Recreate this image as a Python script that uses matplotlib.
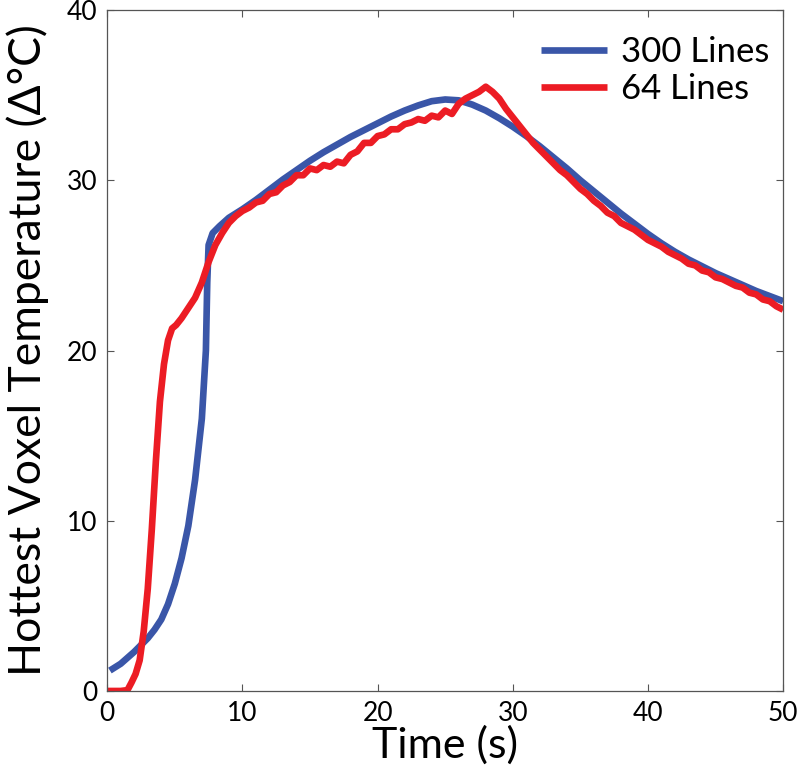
import matplotlib
matplotlib.use("Agg")
import matplotlib.pyplot as plt

# 300 Lines (blue)
t_300 = [0.2, 1, 2, 3, 3.5, 4, 4.5, 5, 5.5, 6, 6.5, 7, 7.3, 7.4, 7.5, 7.8, 8.3, 9, 10,
         11, 12, 13, 14, 15, 16, 17, 18, 19, 20, 21, 22, 23, 24, 25, 26, 27, 28,
         29, 30, 31, 32, 33, 34, 35, 36, 37, 38, 39, 40, 41, 42, 43, 44, 45, 46,
         47, 48, 49, 50]
temp_300 = [1.2, 1.6, 2.3, 3.1, 3.6, 4.2, 5.1, 6.3, 7.8, 9.7, 12.4, 16.0, 20.0, 24.0, 26.2,
            26.9, 27.3, 27.8, 28.3, 28.85, 29.45, 30.05, 30.6, 31.15, 31.65, 32.1,
            32.55, 32.95, 33.35, 33.75, 34.1, 34.4, 34.65, 34.75, 34.7, 34.45, 34.1,
            33.65, 33.15, 32.6, 32.0, 31.35, 30.7, 30.0, 29.35, 28.7, 28.05, 27.45,
            26.85, 26.3, 25.8, 25.35, 24.95, 24.55, 24.2, 23.85, 23.5, 23.2, 22.9]

# 64 Lines (red)
t_64 = [0, 0.5, 1, 1.5, 1.8, 2.1, 2.4, 2.7, 3.0, 3.3, 3.6, 3.9, 4.2, 4.5, 4.8, 5.1,
        5.5, 6.0, 6.5, 7.0, 7.5, 8.0, 8.5, 9.0, 9.5, 10,
        10.5, 11, 11.5, 12, 12.5, 13, 13.5, 14, 14.5, 15, 15.5, 16, 16.5, 17, 17.5,
        18, 18.5, 19, 19.5, 20, 20.5, 21, 21.5, 22, 22.5, 23, 23.5, 24, 24.5, 25,
        25.5, 26, 26.5, 27, 27.5, 28, 28.5, 29, 29.5, 30, 30.5, 31, 31.5, 32, 32.5,
        33, 33.5, 34, 34.5, 35, 35.5, 36, 36.5, 37, 37.5, 38, 38.5, 39, 39.5, 40,
        40.5, 41, 41.5, 42, 42.5, 43, 43.5, 44, 44.5, 45, 45.5, 46, 46.5, 47, 47.5,
        48, 48.5, 49, 49.5, 50]
temp_64 = [0, 0, 0, 0.05, 0.5, 1.0, 1.8, 3.5, 6.0, 9.5, 13.5, 17.0, 19.2, 20.6, 21.3,
           21.5, 21.9, 22.5, 23.1, 24.0, 25.2, 26.2, 26.9, 27.5, 27.9, 28.2,
           28.4, 28.7, 28.8, 29.2, 29.3, 29.7, 29.9, 30.3, 30.3, 30.7, 30.6, 30.9,
           30.8, 31.1, 31.0, 31.5, 31.7, 32.2, 32.2, 32.6, 32.7, 33.0, 33.0, 33.3,
           33.4, 33.6, 33.5, 33.8, 33.7, 34.1, 33.9, 34.5, 34.8, 35.0, 35.2, 35.5,
           35.2, 34.8, 34.2, 33.7, 33.2, 32.7, 32.2, 31.8, 31.4, 31.0, 30.6, 30.3,
           29.9, 29.5, 29.2, 28.8, 28.5, 28.1, 27.9, 27.5, 27.3, 27.1, 26.8, 26.5,
           26.3, 26.1, 25.8, 25.6, 25.4, 25.1, 25.0, 24.7, 24.6, 24.3, 24.2, 24.0,
           23.8, 23.7, 23.4, 23.3, 23.0, 22.9, 22.6, 22.4]

x_ticks = [0, 10, 20, 30, 40, 50]
y_ticks = [0, 10, 20, 30, 40]

plt.rcParams['font.family'] = ['Lato', 'DejaVu Sans']

fig = plt.figure(figsize=(8, 7.79), dpi=100)
ax = fig.add_axes([0.134, 0.113, 0.845, 0.874])

ax.plot(t_300, temp_300, color='#3a56a8', lw=4.8, label='300 Lines', solid_capstyle='butt')
ax.plot(t_64, temp_64, color='#ec1c24', lw=4.8, label='64 Lines', solid_capstyle='butt')

ax.set_xlim(0, 50)
ax.set_ylim(0, 40)
ax.set_xticks(x_ticks)
ax.set_yticks(y_ticks)
ax.tick_params(direction='in', length=5, width=0.8, color='#555555', labelsize=19,
               top=True, right=True, pad=7)
for s in ax.spines.values():
    s.set_color('#555555')
    s.set_linewidth(0.9)

ax.set_xlabel('Time (s)', fontsize=31, labelpad=0)
ax.set_ylabel('Hottest Voxel Temperature (\u0394\u00b0C)', fontsize=32, labelpad=13)

leg = ax.legend(loc='upper right', bbox_to_anchor=(1.0, 0.982), frameon=False,
                fontsize=25, handlelength=1.9, handletextpad=0.4, labelspacing=0.15,
                borderaxespad=0.0)

fig.savefig('out.png', dpi=100)
